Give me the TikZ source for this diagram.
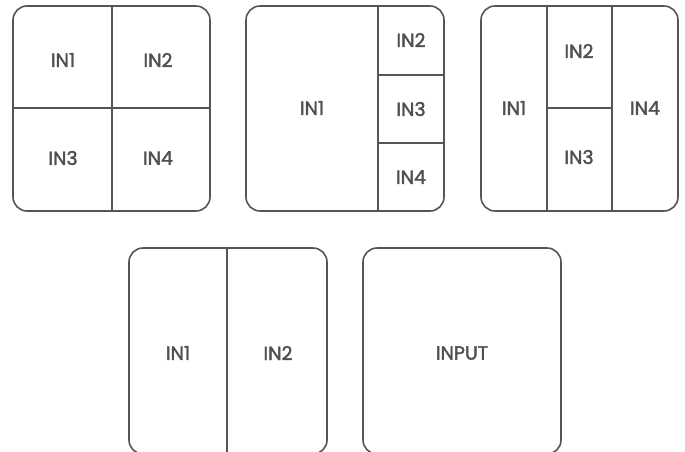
\documentclass[tikz,border=0pt]{standalone}
\usepackage{fontspec}
\newfontfamily\lblfont{Poppins}[UprightFeatures={FakeBold=2}]
\definecolor{ln}{HTML}{555555}
\definecolor{tx}{HTML}{505050}
\tikzset{
  panel/.style={draw=ln, line width=1.6pt, rounded corners=14pt},
  div/.style={draw=ln, line width=1.6pt},
  lbl/.style={text=tx, font=\lblfont\fontsize{19}{19}\selectfont, inner sep=0pt}
}
\begin{document}
\begin{tikzpicture}[x=1pt,y=-1pt]
\useasboundingbox (0,0) rectangle (685,451);
\clip (0,0) rectangle (685,451);
% Panel A
\draw[panel] (13,6) coordinate (a1) rectangle (210,211) coordinate (a2);
\coordinate (at) at (112,6); \coordinate (ab) at (112,211);
\coordinate (al) at (13,108); \coordinate (ar) at (210,108);
\draw[div] (at) -- (ab);
\draw[div] (al) -- (ar);
\node[lbl] (a_in1) at (63,60) {IN1};
\node[lbl] (a_in2) at (158,60) {IN2};
\node[lbl] (a_in3) at (63,158) {IN3};
\node[lbl] (a_in4) at (158,158) {IN4};
% Panel B
\draw[panel] (246,6) rectangle (444,211);
\coordinate (bt) at (378,6); \coordinate (bb) at (378,211);
\coordinate (bl1) at (378,75); \coordinate (br1) at (444,75);
\coordinate (bl2) at (378,143); \coordinate (br2) at (444,143);
\draw[div] (bt) -- (bb);
\draw[div] (bl1) -- (br1);
\draw[div] (bl2) -- (br2);
\node[lbl] (b_in1) at (312,108) {IN1};
\node[lbl] (b_in2) at (411,40) {IN2};
\node[lbl] (b_in3) at (411,109) {IN3};
\node[lbl] (b_in4) at (411,177) {IN4};
% Panel C
\draw[panel] (481,6) rectangle (678,211);
\coordinate (ct1) at (547,6); \coordinate (cb1) at (547,211);
\coordinate (ct2) at (612,6); \coordinate (cb2) at (612,211);
\coordinate (cl) at (547,108); \coordinate (cr) at (612,108);
\draw[div] (ct1) -- (cb1);
\draw[div] (ct2) -- (cb2);
\draw[div] (cl) -- (cr);
\node[lbl] (c_in1) at (514,108) {IN1};
\node[lbl] (c_in2) at (579,51) {IN2};
\node[lbl] (c_in3) at (579,157) {IN3};
\node[lbl] (c_in4) at (645,108) {IN4};
% Panel D
\draw[panel] (129,248) rectangle (327,454);
\coordinate (dt) at (227,248); \coordinate (db) at (227,454);
\draw[div] (dt) -- (db);
\node[lbl] (d_in1) at (178,353) {IN1};
\node[lbl] (d_in2) at (278,353) {IN2};
% Panel E
\draw[panel] (363,248) rectangle (561,454);
\node[lbl] (e_input) at (462,353) {INPUT};
\end{tikzpicture}
\end{document}
